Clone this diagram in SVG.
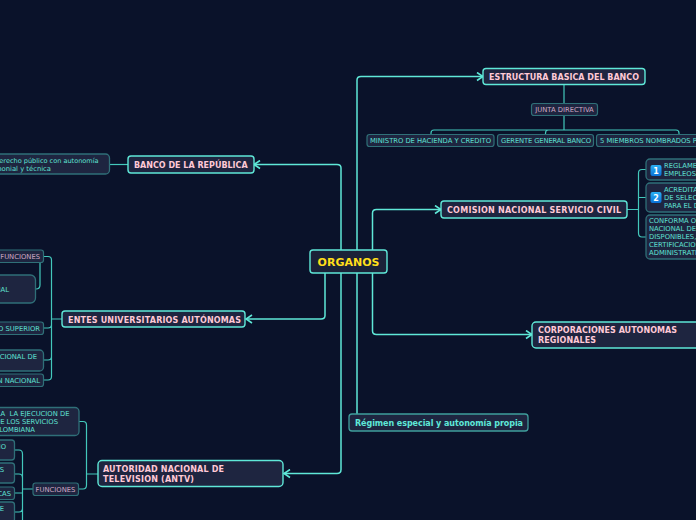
<svg xmlns="http://www.w3.org/2000/svg" width="696" height="520" viewBox="0 0 696 520">
<defs>
<marker id="ah" markerUnits="userSpaceOnUse" markerWidth="9" markerHeight="10" refX="8" refY="5" orient="auto"><path d="M2 1L8 5L2 9" fill="none" stroke="#5fe8d8" stroke-width="1.6"/></marker>
<linearGradient id="ic" x1="0" y1="0" x2="0" y2="1"><stop offset="0" stop-color="#2ab0f4"/><stop offset="1" stop-color="#0a70d8"/></linearGradient>
</defs>
<style>
text{font-family:"DejaVu Sans",sans-serif;white-space:pre}
.c1{fill:none;stroke:#5fe8d8;stroke-width:1.5}
.c2{fill:none;stroke:#43c8bc;stroke-width:1.2}
.main{fill:#1e2540;stroke:#5fe8d8;stroke-width:1.4}
.sub{fill:#1e2540;stroke:#2f6f78;stroke-width:1.3}
.lab{fill:#1e2540;stroke:#2f7078;stroke-width:1.2}
.t1{font-size:8px;font-weight:700;fill:#ffc9d6}
.t2{font-size:6.8px;fill:#5fe0d2}
.t3{font-size:6.8px;fill:#d0a8c4}
.e{text-anchor:end}
.n{font-size:6.55px}
</style>
<rect width="696" height="520" fill="#0a122a"/>
<g id="connectors">
<path class="c1" marker-end="url(#ah)" d="M357 250V80Q357 76.500 361 76.500H483"/>
<path class="c1" marker-end="url(#ah)" d="M372.500 250V213Q372.500 209.500 376.500 209.500H441"/>
<path class="c1" marker-end="url(#ah)" d="M372.500 273V331Q372.500 334.500 376.500 334.500H532"/>
<path class="c1" d="M357 273V414"/>
<path class="c1" marker-end="url(#ah)" d="M341 250V168Q341 164.500 337 164.500H254"/>
<path class="c1" marker-end="url(#ah)" d="M325 273V315.500Q325 319 321 319H246"/>
<path class="c1" marker-end="url(#ah)" d="M341 273V469.500Q341 473.500 337 473.500H284"/>
<path class="c2" d="M564 85V103M564 116V130"/>
<path class="c2" d="M431 134V133Q431 130 434 130H676Q679 130 679 133V134M545.500 134V133Q545.500 130 548.500 130"/>
<path class="c2" d="M627 209.500H638M646 169.500H642Q638.500 169.500 638.500 173V233Q638.500 237 642 237H646M638.500 197.500H646"/>
<path class="c2" d="M110 164.500H128"/>
<path class="c2" d="M62 319H51.500M44 256.500H48Q51.500 256.500 51.500 260V376.500Q51.500 380 48 380H44M44 328H48Q51.500 328 51.500 324.500M44 360H48Q51.500 360 51.500 356.500"/>
<path class="c2" d="M40 263V285Q40 289 36 289"/>
<path class="c2" d="M98 474H87M79 421.500H83Q86.500 421.500 86.500 425V485Q86.500 489 83 489H79"/>
<path class="c2" d="M33 489H23M15 450H19Q22.500 450 22.500 454V520M15 474H19Q22.500 474 22.500 478M15 493H22.500M15 512H19Q22.500 512 22.500 508"/>
</g>
<g id="n-organos"><rect class="main" x="310" y="250" width="77" height="23" rx="3" style="fill:#1b2238"/><text x="348.500" y="266" text-anchor="middle" font-size="11" font-weight="700" fill="#ffdf1a">ORGANOS</text></g>
<g id="n-estructura"><rect class="main" x="483" y="68.500" width="162" height="16" rx="3"/><text class="t1" x="489" y="80" textLength="150">ESTRUCTURA BASICA DEL BANCO</text></g>
<g id="n-junta"><rect class="lab" x="531.500" y="103.500" width="66" height="12" rx="2.500"/><text class="t3" x="564.500" y="112" text-anchor="middle">JUNTA DIRECTIVA</text></g>
<g id="n-ministro"><rect class="lab" x="367" y="134.500" width="127" height="12" rx="2.500"/><text class="t2" x="370" y="143" textLength="121">MINISTRO DE HACIENDA Y CREDITO</text></g>
<g id="n-gerente"><rect class="lab" x="497.500" y="134.500" width="96" height="12" rx="2.500"/><text class="t2" x="501" y="143" textLength="90">GERENTE GENERAL BANCO</text></g>
<g id="n-miembros"><rect class="lab" x="596.500" y="134.500" width="110" height="12" rx="2.500"/><text class="t2" x="600" y="143">5 MIEMBROS NOMBRADOS POR</text></g>
<g id="n-comision"><rect class="main" x="441" y="201" width="186" height="17" rx="3"/><text class="t1" x="447" y="213" textLength="174">COMISION NACIONAL SERVICIO CIVIL</text></g>
<g id="n-reglamenta"><rect class="sub" x="646" y="159" width="60" height="21" rx="4"/><rect x="650.500" y="165" width="11" height="11" rx="2" fill="url(#ic)"/><text x="656" y="174" text-anchor="middle" font-size="8" font-weight="700" fill="#fff">1</text><text class="t2" x="664" y="168">REGLAMENTA</text><text class="t2" x="664" y="176">EMPLEOS</text></g>
<g id="n-acredita"><rect class="sub" x="646" y="183" width="60" height="29" rx="4"/><rect x="650.500" y="192" width="11" height="11" rx="2" fill="url(#ic)"/><text x="656" y="201" text-anchor="middle" font-size="8" font-weight="700" fill="#fff">2</text><text class="t2" x="664" y="192">ACREDITA</text><text class="t2" x="664" y="200">DE SELECCION</text><text class="t2" x="664" y="208">PARA EL DESEMPEÑO</text></g>
<g id="n-conforma"><rect class="sub" x="646" y="215" width="60" height="44" rx="4"/><text class="t2" x="649" y="223">CONFORMA O</text><text class="t2" x="649" y="231">NACIONAL DE</text><text class="t2" x="649" y="239">DISPONIBLES,</text><text class="t2" x="649" y="247">CERTIFICACION</text><text class="t2" x="649" y="255">ADMINISTRATIVA</text></g>
<g id="n-corporaciones"><rect class="main" x="532" y="322" width="170" height="26" rx="4"/><text class="t1" x="538" y="333" textLength="139">CORPORACIONES AUTONOMAS</text><text class="t1" x="538" y="343" textLength="58">REGIONALES</text></g>
<g id="n-regimen"><rect x="349" y="414" width="179" height="17" rx="3" fill="#1e2540" stroke="#3f9e9c" stroke-width="1.3"/><text x="355" y="426" font-size="8" font-weight="700" fill="#5fe8d8" textLength="168">Régimen especial y autonomía propia</text></g>
<g id="n-banco"><rect class="main" x="128" y="156" width="126" height="17" rx="3"/><text class="t1" x="134" y="168">BANCO DE LA REPÚBLICA</text></g>
<g id="n-derecho"><rect class="sub" x="-40" y="154" width="149.500" height="20" rx="4"/><text class="t2 e n" x="98.500" y="163">derecho público con autonomía</text><text class="t2 e" x="51" y="171">patrimonial y técnica</text></g>
<g id="n-entes"><rect class="main" x="62" y="311" width="183" height="16" rx="3"/><text class="t1" x="68" y="323" textLength="173">ENTES UNIVERSITARIOS AUTÓNOMAS</text></g>
<g id="n-funciones1"><rect class="lab" x="-10" y="250" width="53.500" height="12.500" rx="2.500"/><text class="t3 e" x="40" y="259">FUNCIONES</text></g>
<g id="n-al"><rect class="sub" x="-30" y="275" width="65.500" height="28" rx="5"/><text class="t2 e" x="9" y="292">NAL</text></g>
<g id="n-superior"><rect class="lab" x="-40" y="322" width="83.500" height="12.500" rx="2.500"/><text class="t2 e" x="40" y="331">EDUCATIVO SUPERIOR</text></g>
<g id="n-nacional"><rect class="sub" x="-40" y="350" width="83.500" height="21" rx="4"/><text class="t2 e" x="37" y="359">CONSEJO NACIONAL DE</text></g>
<g id="n-nacion2"><rect class="lab" x="-40" y="374" width="83.500" height="12.500" rx="2.500"/><text class="t2 e" x="40" y="383">EDUCACIÓN NACIONAL</text></g>
<g id="n-antv"><rect class="main" x="98" y="460.500" width="185" height="26" rx="4"/><text class="t1" x="103" y="472" textLength="121">AUTORIDAD NACIONAL DE</text><text class="t1" x="103" y="482" textLength="91">TELEVISION (ANTV)</text></g>
<g id="n-ejecucion"><rect class="sub" x="-40" y="407.500" width="119" height="28" rx="4"/><text class="t2 e" x="69.500" y="416">LA  LA EJECUCION DE</text><text class="t2 e" x="58" y="424">DE LOS SERVICIOS</text><text class="t2 e" x="35" y="432">COLOMBIANA</text></g>
<g id="n-funciones2"><rect class="lab" x="33" y="483" width="45.500" height="12.500" rx="2.500"/><text class="t3" x="55.500" y="492" text-anchor="middle">FUNCIONES</text></g>
<g id="n-a1"><rect class="sub" x="-30" y="440" width="44.500" height="20" rx="3"/><text class="t2 e" x="6" y="449">MO</text></g>
<g id="n-a2"><rect class="sub" x="-30" y="463" width="44.500" height="20" rx="3"/><text class="t2 e" x="4" y="472">ES</text></g>
<g id="n-a3"><rect class="lab" x="-30" y="487" width="44.500" height="12.500" rx="2.500"/><text class="t2 e" x="11" y="496">TICAS</text></g>
<g id="n-a4"><rect class="sub" x="-30" y="502" width="44.500" height="20" rx="3"/><text class="t2 e" x="4" y="511">E</text></g>
</svg>
